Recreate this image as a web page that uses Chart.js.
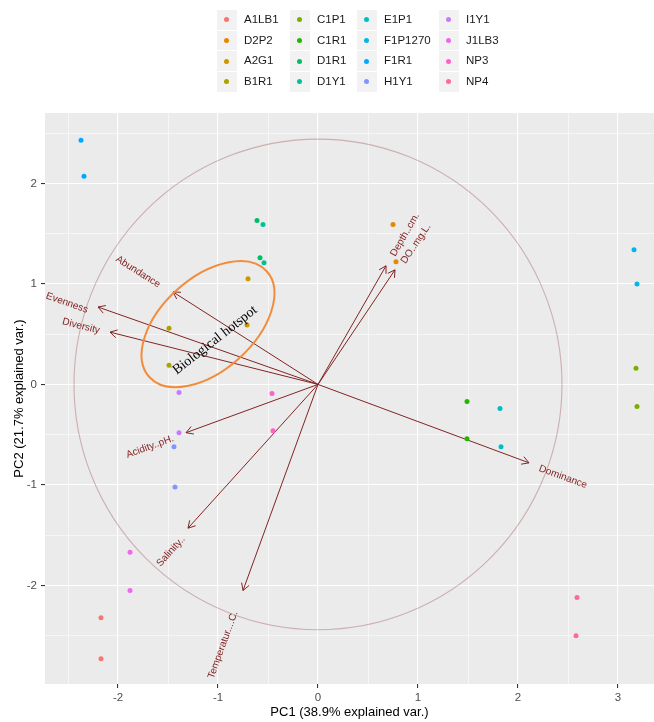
<!DOCTYPE html>
<html lang="en">
<head>
  <meta charset="UTF-8">
  <title>PCA biplot</title>
  <script src="https://cdn.jsdelivr.net/npm/chart.js"></script>
  <style>
    body { margin: 0; background: #fff; font-family: Arial, "Liberation Sans", sans-serif; }
    #wrap { position: relative; width: 654px; height: 722px; }
    #legend { position: absolute; left: 0; top: 0; width: 654px; height: 100px; }
    .key { position: absolute; width: 19.5px; height: 19.5px; background: #F2F2F2; }
    .key span { position: absolute; left: 7.2px; top: 7.2px; width: 5.2px; height: 5.2px; border-radius: 50%; }
    .lab { position: absolute; font-size: 11.5px; color: #1A1A1A; line-height: 19.5px; white-space: nowrap; }
    canvas { position: absolute; left: 0; top: 0; }
  </style>
</head>
<body>
  <div id="wrap">
    <canvas id="pcaChart" width="654" height="722"></canvas>
    <div id="legend"></div>
  </div>

  <script>
    // groups (legend order) and their ggplot hue colours
    const groups = ['A1LB1', 'D2P2', 'A2G1', 'B1R1', 'C1P1', 'C1R1', 'D1R1', 'D1Y1',
                    'E1P1', 'F1P1270', 'F1R1', 'H1Y1', 'I1Y1', 'J1LB3', 'NP3', 'NP4'];
    const groupColors = ['#F8766D', '#E58700', '#CD9600', '#ABA300', '#7CAE00', '#24B700', '#00BE67', '#00C19A',
                         '#00BFC4', '#00B8E7', '#00A9FF', '#8494FF', '#C77CFF', '#ED68ED', '#FF61CC', '#FF689F'];

    // sample scores
    const sampleGroups = ['A1LB1', 'A1LB1', 'D2P2', 'D2P2', 'A2G1', 'A2G1', 'B1R1', 'B1R1',
                          'C1P1', 'C1P1', 'C1R1', 'C1R1', 'D1R1', 'D1R1', 'D1Y1', 'D1Y1',
                          'E1P1', 'E1P1', 'F1P1270', 'F1P1270', 'F1R1', 'F1R1', 'H1Y1', 'H1Y1',
                          'I1Y1', 'I1Y1', 'J1LB3', 'J1LB3', 'NP3', 'NP3', 'NP4', 'NP4'];
    const pc1Scores = [-2.17, -2.17, 0.75, 0.78, -0.70, -0.71, -1.49, -1.49,
                       3.18, 3.19, 1.49, 1.49, -0.61, -0.58, -0.55, -0.54,
                       1.82, 1.83, 3.16, 3.19, -2.37, -2.34, -1.44, -1.43,
                       -1.39, -1.39, -1.88, -1.88, -0.46, -0.45, 2.59, 2.58];
    const pc2Scores = [-2.32, -2.73, 1.59, 1.22, 1.05, 0.59, 0.56, 0.19,
                       0.16, -0.22, -0.17, -0.54, 1.63, 1.26, 1.59, 1.21,
                       -0.24, -0.62, 1.34, 1.00, 2.43, 2.07, -0.62, -1.02,
                       -0.08, -0.48, -1.67, -2.05, -0.09, -0.46, -2.12, -2.50];

    // variable loadings (arrow tips) and label centres
    const variables = ['Abundance', 'Evenness', 'Diversity', 'Depth..cm.', 'DO..mg.L.',
                       'Dominance', 'Acidity..pH.', 'Salinity..', 'Temperatur....C.'];
    const loadPC1 = [-1.45, -2.20, -2.08, 0.68, 0.77, 2.11, -1.32, -1.30, -0.75];
    const loadPC2 = [0.92, 0.77, 0.52, 1.18, 1.14, -0.78, -0.48, -1.43, -2.05];
    const labelPC1 = [-1.80, -2.51, -2.37, 0.87, 0.98, 2.45, -1.68, -1.47, -0.95];
    const labelPC2 = [1.12, 0.81, 0.58, 1.49, 1.40, -0.92, -0.62, -1.66, -2.59];

    const circleRadius = 2.44;
    // "Biological hotspot" ellipse: centre, semi-axes, tilt (degrees)
    const hotspotCentre = [-1.10, 0.60];
    const hotspotAxes = [0.79, 0.46];
    const hotspotTilt = 42;
    const hotspotText = [-1.03, 0.44];

    const xTicks = [-2.5, -2, -1.5, -1, -0.5, 0, 0.5, 1, 1.5, 2, 2.5, 3];
    const yTicks = [-2.5, -2, -1.5, -1, -0.5, 0, 0.5, 1, 1.5, 2, 2.5];

    const arrowRed = '#832424';

    // legend (column-major like ggplot)
    const legendEl = document.getElementById('legend');
    const colLeft = [217, 290, 357, 439];
    groups.forEach((g, i) => {
      const col = Math.floor(i / 4), row = i % 4;
      const top = 10 + row * 20.7;
      const key = document.createElement('div');
      key.className = 'key';
      key.style.left = colLeft[col] + 'px';
      key.style.top = top + 'px';
      key.innerHTML = '<span style="background:' + groupColors[i] + '"></span>';
      const lab = document.createElement('div');
      lab.className = 'lab';
      lab.style.left = (colLeft[col] + 27) + 'px';
      lab.style.top = top + 'px';
      lab.textContent = g;
      legendEl.appendChild(key);
      legendEl.appendChild(lab);
    });

    const pointSets = groups.map((g, gi) => ({
      label: g,
      data: sampleGroups.map((s, i) => s === g ? { x: pc1Scores[i], y: pc2Scores[i] } : null).filter(p => p),
      backgroundColor: groupColors[gi],
      borderWidth: 0,
      pointRadius: 2.5,
      order: 1
    }));

    const arrowSets = variables.map((v, i) => ({
      label: v,
      data: [{ x: 0, y: 0 }, { x: loadPC1[i], y: loadPC2[i] }],
      showLine: true,
      borderColor: arrowRed,
      borderWidth: 1,
      pointRadius: 0,
      order: 2
    }));

    const biplotLayers = {
      id: 'biplotLayers',
      beforeDraw(chart) {
        const { ctx, chartArea: a } = chart;
        ctx.save();
        ctx.fillStyle = '#EBEBEB';
        ctx.fillRect(a.left, a.top, a.right - a.left, a.bottom - a.top);
        ctx.restore();
      },
      beforeDatasetsDraw(chart) {
        const { ctx, chartArea: a, scales: { x, y } } = chart;
        const cx = x.getPixelForValue(0), cy = y.getPixelForValue(0);
        ctx.save();
        ctx.beginPath();
        ctx.rect(a.left, a.top, a.right - a.left, a.bottom - a.top);
        ctx.clip();
        ctx.strokeStyle = 'rgba(131,36,36,0.3)';
        ctx.lineWidth = 1.1;
        ctx.beginPath();
        ctx.ellipse(cx, cy, x.getPixelForValue(circleRadius) - cx, cy - y.getPixelForValue(circleRadius), 0, 0, Math.PI * 2);
        ctx.stroke();
        ctx.restore();
      },
      afterDatasetsDraw(chart) {
        const { ctx, scales: { x, y } } = chart;
        const ox = x.getPixelForValue(0), oy = y.getPixelForValue(0);
        ctx.save();
        // arrow heads + variable names
        variables.forEach((v, i) => {
          const tx = x.getPixelForValue(loadPC1[i]), ty = y.getPixelForValue(loadPC2[i]);
          const ang = Math.atan2(ty - oy, tx - ox);
          ctx.strokeStyle = arrowRed;
          ctx.lineWidth = 1;
          ctx.beginPath();
          ctx.moveTo(tx - 8 * Math.cos(ang - Math.PI / 6), ty - 8 * Math.sin(ang - Math.PI / 6));
          ctx.lineTo(tx, ty);
          ctx.lineTo(tx - 8 * Math.cos(ang + Math.PI / 6), ty - 8 * Math.sin(ang + Math.PI / 6));
          ctx.stroke();

          let rot = ang;
          if (tx < ox) rot += Math.PI;
          ctx.save();
          ctx.translate(x.getPixelForValue(labelPC1[i]), y.getPixelForValue(labelPC2[i]));
          ctx.rotate(rot);
          ctx.fillStyle = arrowRed;
          ctx.font = '10px Arial, "Liberation Sans", sans-serif';
          ctx.textAlign = 'center';
          ctx.textBaseline = 'middle';
          ctx.fillText(v, 0, 0);
          ctx.restore();
        });

        // hotspot ellipse
        const ex = x.getPixelForValue(hotspotCentre[0]), ey = y.getPixelForValue(hotspotCentre[1]);
        const rx = x.getPixelForValue(hotspotCentre[0] + hotspotAxes[0]) - ex;
        const ry = ey - y.getPixelForValue(hotspotCentre[1] + hotspotAxes[1]);
        ctx.strokeStyle = '#F28C3A';
        ctx.lineWidth = 2;
        ctx.beginPath();
        ctx.ellipse(ex, ey, rx, ry, -hotspotTilt * Math.PI / 180, 0, Math.PI * 2);
        ctx.stroke();

        ctx.translate(x.getPixelForValue(hotspotText[0]), y.getPixelForValue(hotspotText[1]));
        ctx.rotate(-38 * Math.PI / 180);
        ctx.fillStyle = '#000';
        ctx.font = '14px "Liberation Serif", "Times New Roman", serif';
        ctx.textAlign = 'center';
        ctx.textBaseline = 'middle';
        ctx.fillText('Biological hotspot', 0, 0);
        ctx.restore();
      }
    };

    const isMajor = v => Number.isInteger(v);
    const gridOpts = {
      color: '#FFFFFF',
      lineWidth: c => (c.tick && isMajor(c.tick.value)) ? 1.1 : 0.55,
      tickColor: c => (c.tick && isMajor(c.tick.value)) ? '#333333' : 'rgba(0,0,0,0)',
      tickLength: 4,
      tickWidth: 1.1,
      drawTicks: true
    };
    const tickFont = { family: 'Arial, "Liberation Sans", sans-serif', size: 11.5 };
    const titleFont = { family: 'Arial, "Liberation Sans", sans-serif', size: 13 };

    const ctx = document.getElementById('pcaChart').getContext('2d');
    new Chart(ctx, {
      type: 'scatter',
      data: { datasets: [...pointSets, ...arrowSets] },
      options: {
        responsive: false,
        animation: false,
        layout: { autoPadding: false, padding: { top: 113, right: 0, left: 0, bottom: 0 } },
        plugins: { legend: { display: false }, tooltip: { enabled: false } },
        scales: {
          x: {
            type: 'linear',
            min: -2.73,
            max: 3.36,
            afterBuildTicks: s => { s.ticks = xTicks.map(v => ({ value: v })); },
            afterFit: s => { s.height = 38; s.paddingLeft = 0; s.paddingRight = 0; },
            grid: gridOpts,
            border: { display: false },
            ticks: {
              autoSkip: false,
              maxRotation: 0,
              padding: 3,
              color: '#4D4D4D',
              font: tickFont,
              callback: v => isMajor(v) ? String(v) : ''
            },
            title: { display: true, text: 'PC1 (38.9% explained var.)', color: '#000', font: titleFont, padding: { top: 0, bottom: 2 } }
          },
          y: {
            type: 'linear',
            min: -2.98,
            max: 2.70,
            afterBuildTicks: s => { s.ticks = yTicks.map(v => ({ value: v })); },
            afterFit: s => { s.width = 45; s.paddingTop = 0; s.paddingBottom = 0; },
            grid: gridOpts,
            border: { display: false },
            ticks: {
              autoSkip: false,
              padding: 4,
              color: '#4D4D4D',
              font: tickFont,
              callback: v => isMajor(v) ? String(v) : ''
            },
            title: { display: true, text: 'PC2 (21.7% explained var.)', color: '#000', font: titleFont, padding: { top: 12, bottom: 0 } }
          }
        }
      },
      plugins: [biplotLayers]
    });
  </script>
</body>
</html>
